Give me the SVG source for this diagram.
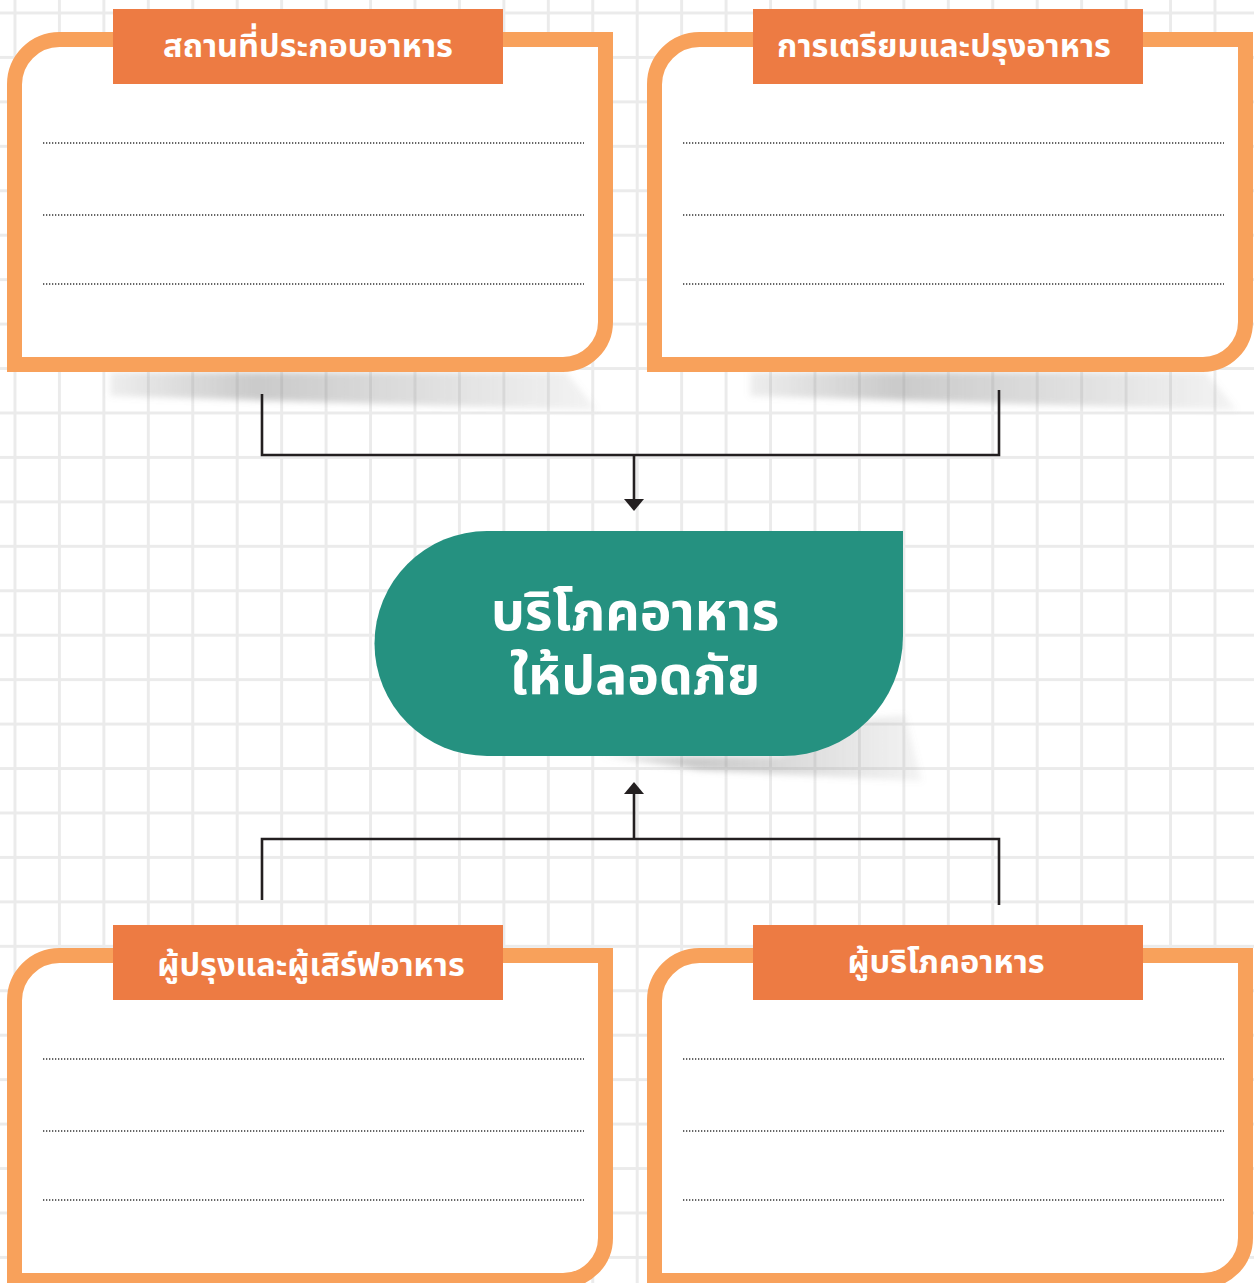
<svg xmlns="http://www.w3.org/2000/svg" xmlns:xlink="http://www.w3.org/1999/xlink" width="1254" height="1283" viewBox="0 0 1254 1283">
  <style>
    .frame { fill: #ffffff; stroke: #f8a15b; stroke-width: 15; stroke-linejoin: miter; }
    .tab { fill: #ed7b43; }
    .tab-label { fill: #ffffff; font-family: "Noto Sans Thai", "Noto Sans", "DejaVu Sans", sans-serif; font-weight: 700; font-size: 32.5px; text-anchor: middle; }
    .rule { stroke: #333333; stroke-width: 1.3; stroke-dasharray: 1.3 1.7; fill: none; }
    .wire { stroke: #231f20; stroke-width: 2.6; fill: none; }
    .head { fill: #231f20; }
    .hub-label { fill: #ffffff; font-family: "Noto Sans Thai", "Noto Sans", "DejaVu Sans", sans-serif; font-weight: 700; font-size: 53.5px; text-anchor: middle; }
  </style>
  <defs>
    <pattern id="grid" patternUnits="userSpaceOnUse" x="13.5" y="11.5" width="44.444" height="44.444">
      <rect x="0" y="0" width="3" height="44.444" fill="#ebebeb"/>
      <rect x="0" y="0" width="44.444" height="3" fill="#ebebeb"/>
    </pattern>
    <linearGradient id="shade" x1="0" y1="0" x2="1" y2="0">
      <stop offset="0" stop-color="#8a8a8a" stop-opacity="0.15"/>
      <stop offset="0.3" stop-color="#8a8a8a" stop-opacity="0.45"/>
      <stop offset="1" stop-color="#8a8a8a" stop-opacity="0.1"/>
    </linearGradient>
    <filter id="soft" x="-10%" y="-50%" width="120%" height="200%">
      <feGaussianBlur stdDeviation="3"/>
    </filter>
    <!-- card outline: rounded top-left and bottom-right, square elsewhere -->
    <path id="card" d="M 14.5 364.5 L 14.5 85 A 45 45 0 0 1 59.5 39.5 L 605.5 39.5 L 605.5 322 A 42.5 42.5 0 0 1 563 364.5 Z"/>
    <g id="rules">
      <line x1="43" y1="143" x2="584" y2="143"/>
      <line x1="43" y1="215" x2="584" y2="215"/>
      <line x1="43" y1="284" x2="584" y2="284"/>
    </g>
  </defs>

  <!-- background -->
  <rect width="1254" height="1283" fill="#ffffff"/>
  <rect width="1254" height="1283" fill="url(#grid)"/>

  <!-- drop shadows under the upper cards and the hub -->
  <g id="shadows" filter="url(#soft)">
    <polygon points="110,372 566,372 597,410 110,396" fill="url(#shade)"/>
    <polygon points="750,372 1206,372 1237,410 750,396" fill="url(#shade)"/>
    <polygon points="600,756 780,756 872,718 905,715 922,781 700,770" fill="url(#shade)"/>
  </g>

  <!-- connectors -->
  <g id="connectors">
    <polyline class="wire" points="262,394 262,455 999,455 999,390"/>
    <line class="wire" x1="634" y1="455" x2="634" y2="500"/>
    <polygon class="head" points="624,499 644,499 634,511"/>
    <polyline class="wire" points="262,900 262,839 999,839 999,905"/>
    <line class="wire" x1="634" y1="839" x2="634" y2="793"/>
    <polygon class="head" points="624,794 644,794 634,782"/>
  </g>

  <!-- central hub -->
  <g id="hub">
    <path d="M 903 531 L 487 531 A 112.5 112.5 0 0 0 487 756 L 783 756 A 120 120 0 0 0 903 636 Z" fill="#259180"/>
    <text class="hub-label" x="635" y="630">บริโภคอาหาร</text>
    <text class="hub-label" x="635" y="694">ให้ปลอดภัย</text>
  </g>

  <!-- card: premises -->
  <g id="card-premises">
    <use xlink:href="#card" class="frame"/>
    <use xlink:href="#rules" class="rule"/>
    <rect class="tab" x="113" y="9" width="390" height="75"/>
    <text class="tab-label" x="308" y="57">สถานที่ประกอบอาหาร</text>
  </g>

  <!-- card: preparation -->
  <g id="card-preparation" transform="translate(640 0)">
    <use xlink:href="#card" class="frame"/>
    <use xlink:href="#rules" class="rule"/>
    <rect class="tab" x="113" y="9" width="390" height="75"/>
    <text class="tab-label" x="304" y="57">การเตรียมและปรุงอาหาร</text>
  </g>

  <!-- card: cooks and servers -->
  <g id="card-staff" transform="translate(0 916)">
    <use xlink:href="#card" class="frame"/>
    <use xlink:href="#rules" class="rule"/>
    <rect class="tab" x="113" y="9" width="390" height="75"/>
    <text class="tab-label" x="311" y="60">ผู้ปรุงและผู้เสิร์ฟอาหาร</text>
  </g>

  <!-- card: consumers -->
  <g id="card-consumers" transform="translate(640 916)">
    <use xlink:href="#card" class="frame"/>
    <use xlink:href="#rules" class="rule"/>
    <rect class="tab" x="113" y="9" width="390" height="75"/>
    <text class="tab-label" x="306" y="57">ผู้บริโภคอาหาร</text>
  </g>
</svg>
